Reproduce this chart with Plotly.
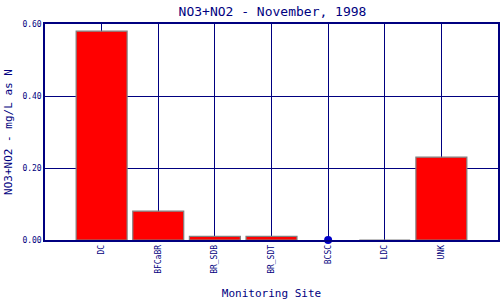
import plotly.graph_objects as go

sites = ["DC", "BFCaBR", "BR_SDB", "BR_SDT", "BCSC", "LDC", "UNK"]
values = [0.58, 0.08, 0.01, 0.01, None, 0.0, 0.23]
missing_sites = ["BCSC"]
missing_values = [0.0]
y_ticks = [0.0, 0.2, 0.4, 0.6]
y_tick_labels = ["0.00", "0.20", "0.40", "0.60"]

NAVY = "#000080"
FONT = "DejaVu Sans Mono"

fig = go.Figure()
fig.add_trace(go.Bar(
    x=sites, y=values,
    marker=dict(color="#ff0000", line=dict(color="#808080", width=1.2)),
    width=0.9, showlegend=False,
))
fig.add_trace(go.Scatter(
    x=missing_sites, y=missing_values, mode="markers",
    marker=dict(color="#0000c8", size=8), cliponaxis=False, showlegend=False,
))

fig.update_layout(
    width=500, height=300,
    margin=dict(l=45, r=0, t=24, b=60),
    paper_bgcolor="white", plot_bgcolor="white",
    title=dict(text="NO3+NO2 - November, 1998", x=0.545, xanchor="center",
               y=0.962, yanchor="middle",
               font=dict(family=FONT, size=13, color=NAVY)),
    font=dict(family=FONT, color=NAVY),
    bargap=0.1,
)
fig.update_xaxes(
    range=[-1, 7], type="category", tickangle=-90,
    tickfont=dict(size=8, color=NAVY),
    showgrid=True, gridcolor=NAVY, gridwidth=1,
    showline=True, linecolor=NAVY, linewidth=1.5, mirror=True,
    ticks="", ticklen=0,
    title=dict(text="Monitoring Site", font=dict(size=11, color=NAVY), standoff=18),
)
fig.update_yaxes(
    range=[0, 0.6], tickvals=y_ticks, ticktext=y_tick_labels,
    tickfont=dict(size=8, color=NAVY),
    showgrid=True, gridcolor=NAVY, gridwidth=1,
    showline=True, linecolor=NAVY, linewidth=1.5, mirror=True,
    zeroline=False, ticks="",
    title=dict(text="NO3+NO2 - mg/L as N", font=dict(size=11, color=NAVY), standoff=8),
)
fig.write_html("out.html")
